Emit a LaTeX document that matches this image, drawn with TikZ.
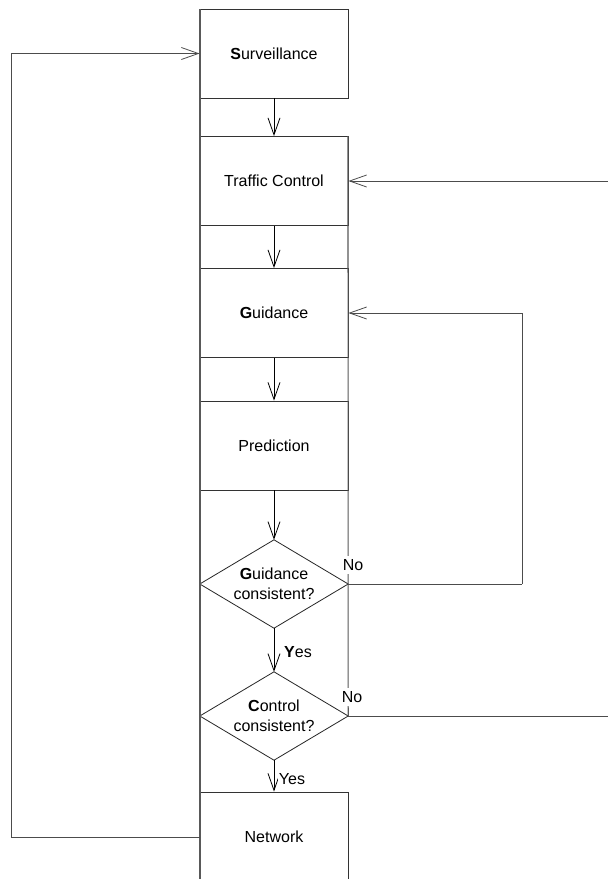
\documentclass[tikz,border=0pt]{standalone}
\usepackage{fontspec}
\setmainfont{Liberation Sans}
\usetikzlibrary{arrows.meta}
\tikzset{
  boxnode/.style={draw=black!80, line width=0.9pt, minimum width=148pt, minimum height=89pt, inner sep=0pt, font=\fontsize{16}{20}\selectfont},
  decnode/.style={draw=none, minimum width=148pt, minimum height=88pt, inner sep=0pt, align=center, font=\fontsize{16}{20}\selectfont},
  diam/.style={draw=black!85, line width=0.8pt},
  column/.style={draw=black!65, line width=1.1pt},
  arr/.style={draw=black, line width=0.8pt, -{Straight Barb[length=17pt,width=12pt,line width=0.8pt]}},
  loopline/.style={draw=black!70, line width=0.9pt},
  lbl/.style={fill=white, inner sep=3pt, font=\fontsize{16}{20}\selectfont}
}
\begin{document}
\begin{tikzpicture}[x=1pt, y=-1pt]
\useasboundingbox (0,0) rectangle (608,879);
\fill[white] (0,0) rectangle (608,879);
% boxes
\node[boxnode] (sur) at (274,53.5) {\textbf{S}urveillance};
\node[boxnode] (tc) at (274,181) {Traffic Control};
\node[boxnode] (gui) at (274,313) {\textbf{G}uidance};
\node[boxnode] (pre) at (274,445.5) {Prediction};
\node[decnode] (gc) at (274,584) {\textbf{G}uidance\\consistent?};
\node[decnode] (cc) at (274,716) {\textbf{C}ontrol\\consistent?};
\node[boxnode, minimum height=92pt] (net) at (274,838) {};
\node[font=\fontsize{16}{20}\selectfont] (nettext) at (274,836.5) {Network};
% diamonds
\draw[diam] (gc.north) -- (gc.east) -- (gc.south) -- (gc.west) -- cycle;
\draw[diam] (cc.north) -- (cc.east) -- (cc.south) -- (cc.west) -- cycle;
% column lines
\coordinate (ltop) at (200,9);
\coordinate (lbot) at (200,880);
\coordinate (rtop) at (348,136);
\draw[column] (ltop) -- (lbot);
\draw[column] (rtop) -- (cc.east);
% vertical flow
\draw[arr] (sur.south) -- (tc.north);
\draw[arr] (tc.south) -- (gui.north);
\draw[arr] (gui.south) -- (pre.north);
\draw[arr] (pre.south) -- (gc.north);
\draw[arr] (gc.south) -- (cc.north);
\draw[arr] (cc.south) -- (net.north);
% loops
\coordinate (lcorner) at (11,837);
\coordinate (gcorner) at (522,584);
\coordinate (ccorner) at (625,716);
\draw[loopline] (net.west |- lcorner) -- (lcorner);
\draw[loopline, arr, draw=black!70] (lcorner) |- (sur.west);
\draw[loopline] (gc.east) -- (gcorner);
\draw[loopline, arr, draw=black!70] (gcorner) |- (gui.east);
\draw[loopline] (cc.east) -- (ccorner);
\draw[loopline, arr, draw=black!70] (ccorner) |- (tc.east);
% labels
\node[lbl] (no1) at (353,565) {No};
\node[lbl] (no2) at (352,697) {No};
\node[lbl, inner sep=1pt] (yes1) at (298,652) {\textbf{Y}es};
\node[lbl, inner sep=1pt] (yes2) at (292,779) {Yes};
\end{tikzpicture}
\end{document}
